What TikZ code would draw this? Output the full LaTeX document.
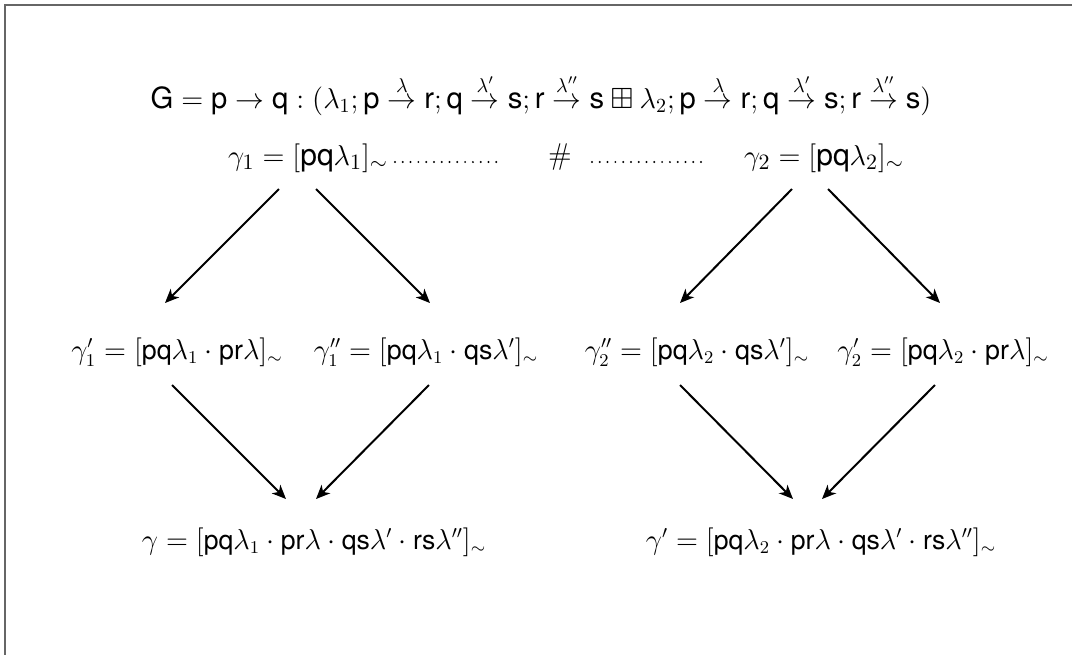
\documentclass[tikz,border=0pt]{standalone}
\usepackage{amsmath,amssymb}
\usepackage{fontspec}
\setsansfont{TeX Gyre Heros}
\usetikzlibrary{arrows.meta}
\newcommand{\sv}[1]{\text{\sffamily #1}}
\newcommand{\lar}[1]{\stackrel{#1}{\to}}
\begin{document}
\begin{tikzpicture}[x=0.5pt,y=-0.5pt,
  every node/.style={inner sep=0pt,font=\fontsize{13.3}{15}\selectfont},
  lbl/.style={anchor=center},
  midlbl/.style={anchor=center,font=\fontsize{13.4}{15}\selectfont},
  toplbl/.style={anchor=center,font=\fontsize{15}{18}\selectfont},
  titlelbl/.style={anchor=center,font=\fontsize{14.6}{17}\selectfont},
  arr/.style={line width=1pt,-{Stealth[length=7pt,width=6pt,inset=2pt]}},
  dotline/.style={line width=1.1pt,line cap=round,dash pattern=on 0pt off 3.895pt},
  frameline/.style={draw=black!60,line width=1pt}]
\useasboundingbox (0,0) rectangle (1072,655);
% frame
\coordinate (fa) at (1072,5);
\coordinate (fb) at (5,5);
\coordinate (fc) at (5,655);
\draw[frameline] (fa) -- (fb) -- (fc);
% title
\node[titlelbl] (title) at (541,95) {$\sv{G} = \sv{p} \to \sv{q} : (\lambda_1; \sv{p} \lar{\lambda} \sv{r}; \sv{q} \lar{\lambda'} \sv{s}; \sv{r} \lar{\lambda''} \sv{s} \boxplus \lambda_2; \sv{p} \lar{\lambda} \sv{r}; \sv{q} \lar{\lambda'} \sv{s}; \sv{r} \lar{\lambda''} \sv{s})$};
% top row
\node[toplbl] (g1) at (308,158) {$\gamma_1 = [\sv{pq}\lambda_1]_{\sim}$};
\node[toplbl] (hash) at (560,157) {\#};
\node[toplbl] (g2) at (824,158) {$\gamma_2 = [\sv{pq}\lambda_2]_{\sim}$};
\coordinate (dl1) at (395,162);
\coordinate (dl2) at (503,162);
\coordinate (dr1) at (592,162);
\coordinate (dr2) at (708,162);
\draw[dotline] (dl1) -- (dl2);
\draw[dotline] (dr1) -- (dr2);
% middle row
\node[midlbl] (g1a) at (177,352) {$\gamma'_1 = [\sv{pq}\lambda_1 \cdot \sv{pr}\lambda]_{\sim}$};
\node[midlbl] (g1b) at (426,352) {$\gamma''_1 = [\sv{pq}\lambda_1 \cdot \sv{qs}\lambda']_{\sim}$};
\node[midlbl] (g2b) at (697,352) {$\gamma''_2 = [\sv{pq}\lambda_2 \cdot \sv{qs}\lambda']_{\sim}$};
\node[midlbl] (g2a) at (943,352) {$\gamma'_2 = [\sv{pq}\lambda_2 \cdot \sv{pr}\lambda]_{\sim}$};
% bottom row
\node[lbl] (g) at (314,542) {$\gamma = [\sv{pq}\lambda_1 \cdot \sv{pr}\lambda \cdot \sv{qs}\lambda' \cdot \sv{rs}\lambda'']_{\sim}$};
\node[lbl] (gp) at (821,542) {$\gamma' = [\sv{pq}\lambda_2 \cdot \sv{pr}\lambda \cdot \sv{qs}\lambda' \cdot \sv{rs}\lambda'']_{\sim}$};
% arrow end points
\coordinate (a1s) at (279,189); \coordinate (a1e) at (165,303);
\coordinate (a2s) at (316,189); \coordinate (a2e) at (430,303);
\coordinate (a3s) at (792,189); \coordinate (a3e) at (680,303);
\coordinate (a4s) at (828,189); \coordinate (a4e) at (940,303);
\coordinate (a5s) at (172,385); \coordinate (a5e) at (286,499);
\coordinate (a6s) at (429,385); \coordinate (a6e) at (316,499);
\coordinate (a7s) at (680,385); \coordinate (a7e) at (793,499);
\coordinate (a8s) at (935,385); \coordinate (a8e) at (822,499);
\draw[arr] (a1s) -- (a1e);
\draw[arr] (a2s) -- (a2e);
\draw[arr] (a3s) -- (a3e);
\draw[arr] (a4s) -- (a4e);
\draw[arr] (a5s) -- (a5e);
\draw[arr] (a6s) -- (a6e);
\draw[arr] (a7s) -- (a7e);
\draw[arr] (a8s) -- (a8e);
\end{tikzpicture}
\end{document}
